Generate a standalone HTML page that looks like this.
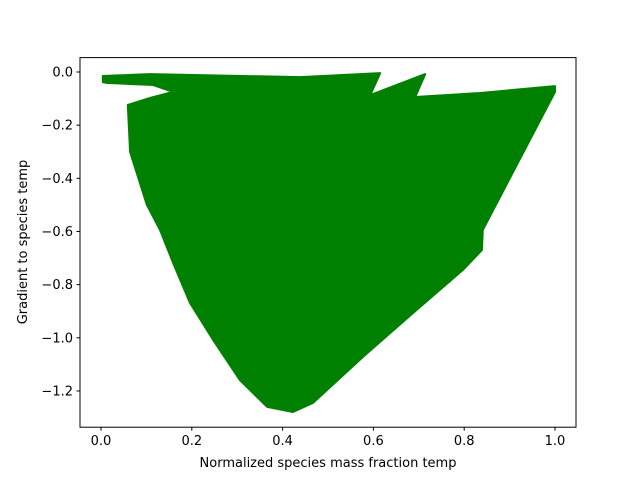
<!DOCTYPE html>
<html><head><meta charset="utf-8"><style>
html,body{margin:0;padding:0;background:#fff;}
svg{display:block;font-family:"DejaVu Sans","Liberation Sans",sans-serif;}
</style></head><body>
<svg id="chart" width="640" height="480" xmlns="http://www.w3.org/2000/svg">
<rect width="640" height="480" fill="#fff"/>
<g id="marks"></g>
<rect x="80" y="57.6" width="496" height="369.6" fill="none" stroke="#000" stroke-width="1"/>
<g id="xticks"></g>
<g id="yticks"></g>
<text x="328" y="467" text-anchor="middle" font-size="13">Normalized species mass fraction temp</text>
<text x="27" y="242" text-anchor="middle" font-size="13" transform="rotate(-90 27 242)">Gradient to species temp</text>
</svg>
<script>
// Outline of the dense scatter cloud (data coordinates)
const cloudX = [0.004,0.108,0.438,0.615,0.593,0.714,0.692,0.835,1.0,1.0,0.841,0.839,0.797,0.687,0.577,0.467,0.423,0.366,0.306,0.247,0.196,0.159,0.130,0.101,0.064,0.059,0.108,0.159,0.115,0.013,0.004];
const cloudY = [-0.015,-0.008,-0.019,-0.004,-0.087,-0.008,-0.094,-0.079,-0.053,-0.075,-0.594,-0.670,-0.745,-0.907,-1.072,-1.245,-1.279,-1.260,-1.159,-1.008,-0.869,-0.719,-0.594,-0.500,-0.301,-0.124,-0.098,-0.075,-0.049,-0.041,-0.038];
const xTickValues = [0.0,0.2,0.4,0.6,0.8,1.0];
const xTickLabels = ["0.0","0.2","0.4","0.6","0.8","1.0"];
const yTickValues = [0.0,-0.2,-0.4,-0.6,-0.8,-1.0,-1.2];
const yTickLabels = ["0.0","\u22120.2","\u22120.4","\u22120.6","\u22120.8","\u22121.0","\u22121.2"];

const NS = "http://www.w3.org/2000/svg";
function xScale(v){ return 101 + 454 * v; }
function yScale(v){ return 72 - 265.8 * v; }

const marks = document.getElementById('marks');
const pts = cloudX.map((x,i)=> xScale(x).toFixed(1)+','+yScale(cloudY[i]).toFixed(1)).join(' ');
const poly = document.createElementNS(NS,'polygon');
poly.setAttribute('points', pts);
poly.setAttribute('fill', '#008000');
poly.setAttribute('stroke', '#008000');
poly.setAttribute('stroke-width', '2');
poly.setAttribute('stroke-linejoin', 'round');


marks.appendChild(poly);

const xg = document.getElementById('xticks');
xTickValues.forEach((v,i)=>{
  const x = xScale(v);
  const l = document.createElementNS(NS,'line');
  l.setAttribute('x1',x); l.setAttribute('x2',x);
  l.setAttribute('y1',427.2); l.setAttribute('y2',430.7);
  l.setAttribute('stroke','#000');
  
  
  xg.appendChild(l);
  const t = document.createElementNS(NS,'text');
  t.setAttribute('x',x); t.setAttribute('y',445);
  t.setAttribute('text-anchor','middle'); t.setAttribute('font-size','13');
  t.textContent = xTickLabels[i];
  
  
  xg.appendChild(t);
});
const yg = document.getElementById('yticks');
yTickValues.forEach((v,i)=>{
  const y = yScale(v);
  const l = document.createElementNS(NS,'line');
  l.setAttribute('x1',76.5); l.setAttribute('x2',80);
  l.setAttribute('y1',y); l.setAttribute('y2',y);
  l.setAttribute('stroke','#000');
  
  
  yg.appendChild(l);
  const t = document.createElementNS(NS,'text');
  t.setAttribute('x',73); t.setAttribute('y',y+4.5);
  t.setAttribute('text-anchor','end'); t.setAttribute('font-size','13');
  t.textContent = yTickLabels[i];
  
  
  yg.appendChild(t);
});
</script>
</body></html>
